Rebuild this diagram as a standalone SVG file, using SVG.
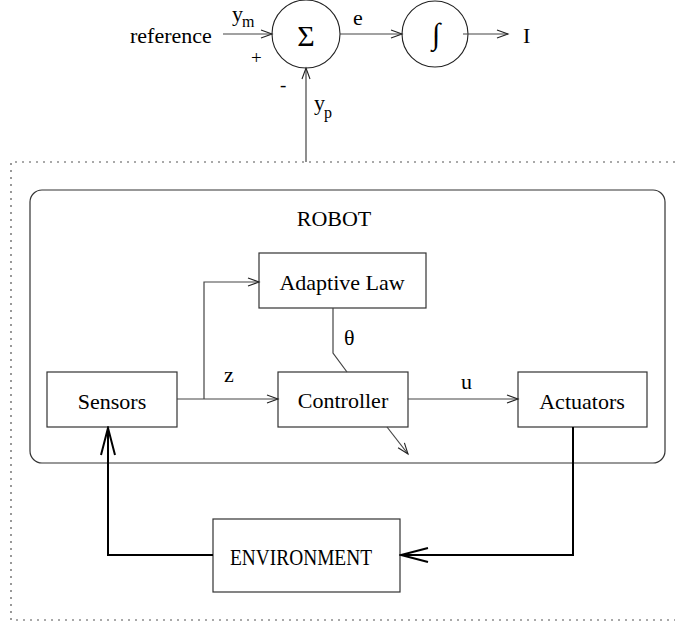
<svg xmlns="http://www.w3.org/2000/svg" width="675" height="626" viewBox="0 0 675 626">
  <style>
    text { font-family: "Liberation Serif", "Tinos", "Times New Roman", "DejaVu Serif", serif; fill: #000; }
    .lbl { font-size: 22px; }
    .sub { font-size: 16px; }
    .caps { font-size: 23px; }
    .box { fill: #fff; stroke: #333; stroke-width: 1.2; }
    .wire { fill: none; stroke: #444; stroke-width: 1.2; }
    .loop { fill: none; stroke: #000; stroke-width: 2; }
    .frame { fill: none; stroke: #555; stroke-width: 1.2; stroke-dasharray: 2 5; }
  </style>
  <defs>
    <marker id="open" markerUnits="userSpaceOnUse" markerWidth="14" markerHeight="12" refX="12" refY="5" orient="auto">
      <path d="M1,1 L12,5 L1,9" fill="none" stroke="#222" stroke-width="1.1"/>
    </marker>
    <marker id="openBig" markerUnits="userSpaceOnUse" markerWidth="30" markerHeight="20" refX="28" refY="9" orient="auto">
      <path d="M1,2 L28,9 L1,16" fill="none" stroke="#000" stroke-width="2"/>
    </marker>
  </defs>

  <!-- dotted system boundary -->
  <path class="frame" d="M675,162 L11,162 L11,620 L675,620"/>

  <!-- robot enclosure -->
  <g id="robot">
    <rect x="30" y="190" width="635" height="273" rx="12" ry="12" fill="none" stroke="#333" stroke-width="1.2"/>
    <text class="lbl" x="334" y="226" text-anchor="middle">ROBOT</text>
  </g>

  <!-- summing junction -->
  <g id="sum">
    <circle cx="306" cy="34" r="34" fill="#fff" stroke="#222" stroke-width="1.1"/>
    <text x="306" y="46" text-anchor="middle" font-size="30" fill="#222">Σ</text>
  </g>

  <!-- integrator -->
  <g id="integrator">
    <circle cx="435" cy="34" r="33" fill="#fff" stroke="#222" stroke-width="1.1"/>
    <text x="436" y="44" text-anchor="middle" font-size="30">∫</text>
  </g>

  <g id="adaptive-law">
    <rect class="box" x="259" y="253" width="167" height="55"/>
    <text class="lbl" x="342" y="290" text-anchor="middle">Adaptive Law</text>
  </g>

  <g id="controller">
    <rect class="box" x="278" y="372" width="130" height="55"/>
    <text class="lbl" x="343" y="408" text-anchor="middle">Controller</text>
  </g>

  <g id="sensors">
    <rect class="box" x="47" y="372" width="130" height="55"/>
    <text class="lbl" x="112" y="409" text-anchor="middle">Sensors</text>
  </g>

  <g id="actuators">
    <rect class="box" x="518" y="372" width="129" height="55"/>
    <text class="lbl" x="582" y="409" text-anchor="middle">Actuators</text>
  </g>

  <g id="environment">
    <rect class="box" x="213" y="519" width="187" height="73"/>
    <text class="caps" x="230" y="565" textLength="142" lengthAdjust="spacingAndGlyphs">ENVIRONMENT</text>
  </g>

  <!-- connectors -->
  <g id="connectors">
    <line class="wire" x1="223" y1="34" x2="272" y2="34" marker-end="url(#open)"/>
    <line class="wire" x1="340" y1="34" x2="402" y2="34" marker-end="url(#open)"/>
    <line class="wire" x1="463" y1="34" x2="508" y2="34" marker-end="url(#open)"/>
    <line class="wire" x1="306" y1="162" x2="306" y2="68" marker-end="url(#open)"/>
    <path class="wire" d="M177,399 L278,399" marker-end="url(#open)"/>
    <path class="wire" d="M204,399 L204,282 L259,282" marker-end="url(#open)"/>
    <path class="wire" d="M333,308 L333,353 L347,372"/>
    <line class="wire" x1="408" y1="399" x2="518" y2="399" marker-end="url(#open)"/>
    <line class="wire" x1="387" y1="427" x2="408" y2="454" marker-end="url(#open)"/>
    <path class="loop" d="M573,427 L573,555 L401,555" marker-end="url(#openBig)"/>
    <path class="loop" d="M213,555 L108,555 L108,428" marker-end="url(#openBig)"/>
  </g>

  <!-- signal labels -->
  <g id="labels">
    <text class="lbl" x="130" y="43">reference</text>
    <text class="lbl" x="232" y="21">y</text>
    <text class="sub" x="242" y="27">m</text>
    <text x="251" y="64" font-size="19">+</text>
    <text x="280" y="91" font-size="19">-</text>
    <text class="lbl" x="314" y="110">y</text>
    <text class="sub" x="324" y="118">p</text>
    <text class="lbl" x="353" y="25">e</text>
    <text class="lbl" x="523" y="43">I</text>
    <text class="lbl" x="224" y="382">z</text>
    <text class="lbl" x="344" y="345">θ</text>
    <text class="lbl" x="461" y="389">u</text>
  </g>
</svg>
